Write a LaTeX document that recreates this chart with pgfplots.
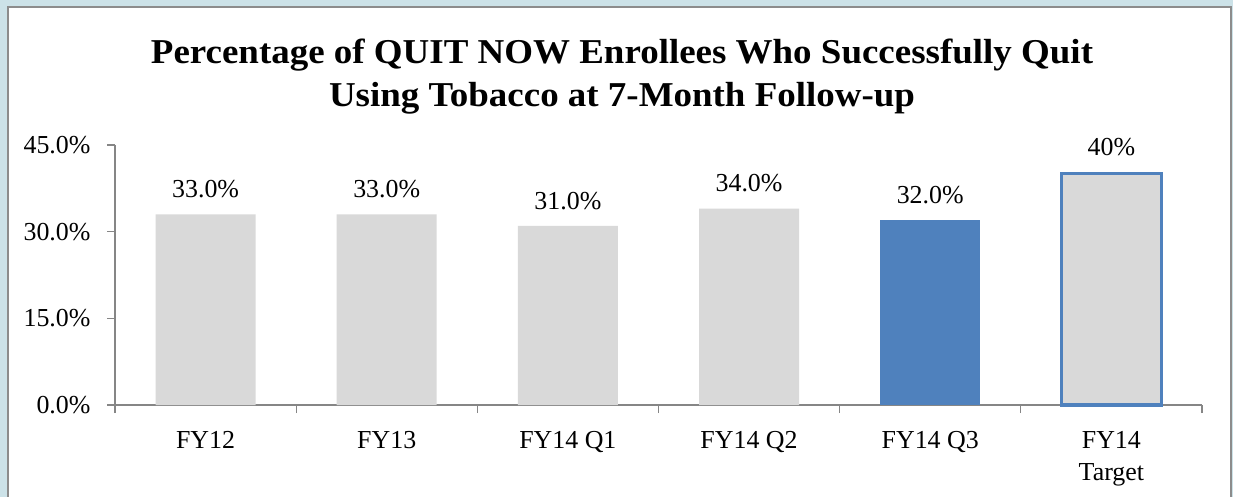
\documentclass[border=0pt]{standalone}
\usepackage{pgfplots}
\pgfplotsset{compat=1.18}
\usepackage{fontspec}
\setmainfont{Liberation Serif}
\definecolor{framebg}{HTML}{CCE2E8}
\definecolor{framegray}{HTML}{8C8C8C}
\definecolor{bargray}{HTML}{D9D9D9}
\definecolor{barblue}{HTML}{4F81BD}
\definecolor{axisgray}{HTML}{868686}

\begin{document}
\begin{tikzpicture}
% outer frame
\fill[framebg] (0,0) rectangle (1233bp,497bp);
\useasboundingbox (0,0) rectangle (1233bp,497bp);
\filldraw[fill=white, draw=framegray, line width=2bp] (8bp,-10bp) -- (8bp,490bp) -- (1231bp,490bp) -- (1231bp,-10bp);

% title
\node[anchor=base, xscale=1.06, font=\fontsize{35}{40}\selectfont\bfseries] at (622bp,433bp)
    {Percentage of QUIT NOW Enrollees Who Successfully Quit};
\node[anchor=base, xscale=1.06, font=\fontsize{35}{40}\selectfont\bfseries] at (622bp,390bp)
    {Using Tobacco at 7-Month Follow-up};

\begin{axis}[
    at={(115bp,92bp)}, anchor=south west,
    scale only axis,
    width=1087bp, height=260bp,
    xmin=-0.5, xmax=5.5,
    ymin=0, ymax=45,
    axis x line=bottom, axis y line=left,
    axis line style={-, axisgray, line width=1.2bp},
    ytick={0,15,30,45},
    yticklabels={0.0\%,15.0\%,30.0\%,45.0\%},
    xtick={0,...,5},
    xticklabels={FY12,FY13,FY14 Q1,FY14 Q2,FY14 Q3,{FY14\\Target}},
    xticklabel style={align=center, anchor=north, inner sep=0pt, yshift=-18bp},
    x tick label style={font=\fontsize{26}{32}\selectfont},
    y tick label style={font=\fontsize{26}{30}\selectfont, xshift=-13bp},
    major x tick style={draw=none},
    minor xtick={-0.5,0.5,...,5.5},
    tick align=outside,
    major tick length=8bp, minor tick length=8bp,
    tick style={axisgray, line width=1.2bp},
    ybar, bar width=100bp,
    point meta=explicit symbolic,
    nodes near coords,
    nodes near coords style={font=\fontsize{26}{30}\selectfont, black, yshift=13bp},
    clip=false,
]
\addplot[bar shift=0pt, fill=bargray, draw=none] coordinates {
    (0,33)[33.0\%] (1,33)[33.0\%] (2,31)[31.0\%] (3,34)[34.0\%]
};
\addplot[bar shift=0pt, fill=barblue, draw=none] coordinates {
    (4,32)[32.0\%]
};
\addplot[bar shift=0pt, fill=bargray, draw=barblue, line width=3bp] coordinates {
    (5,40)[40\%]
};
\end{axis}
\end{tikzpicture}
\end{document}
